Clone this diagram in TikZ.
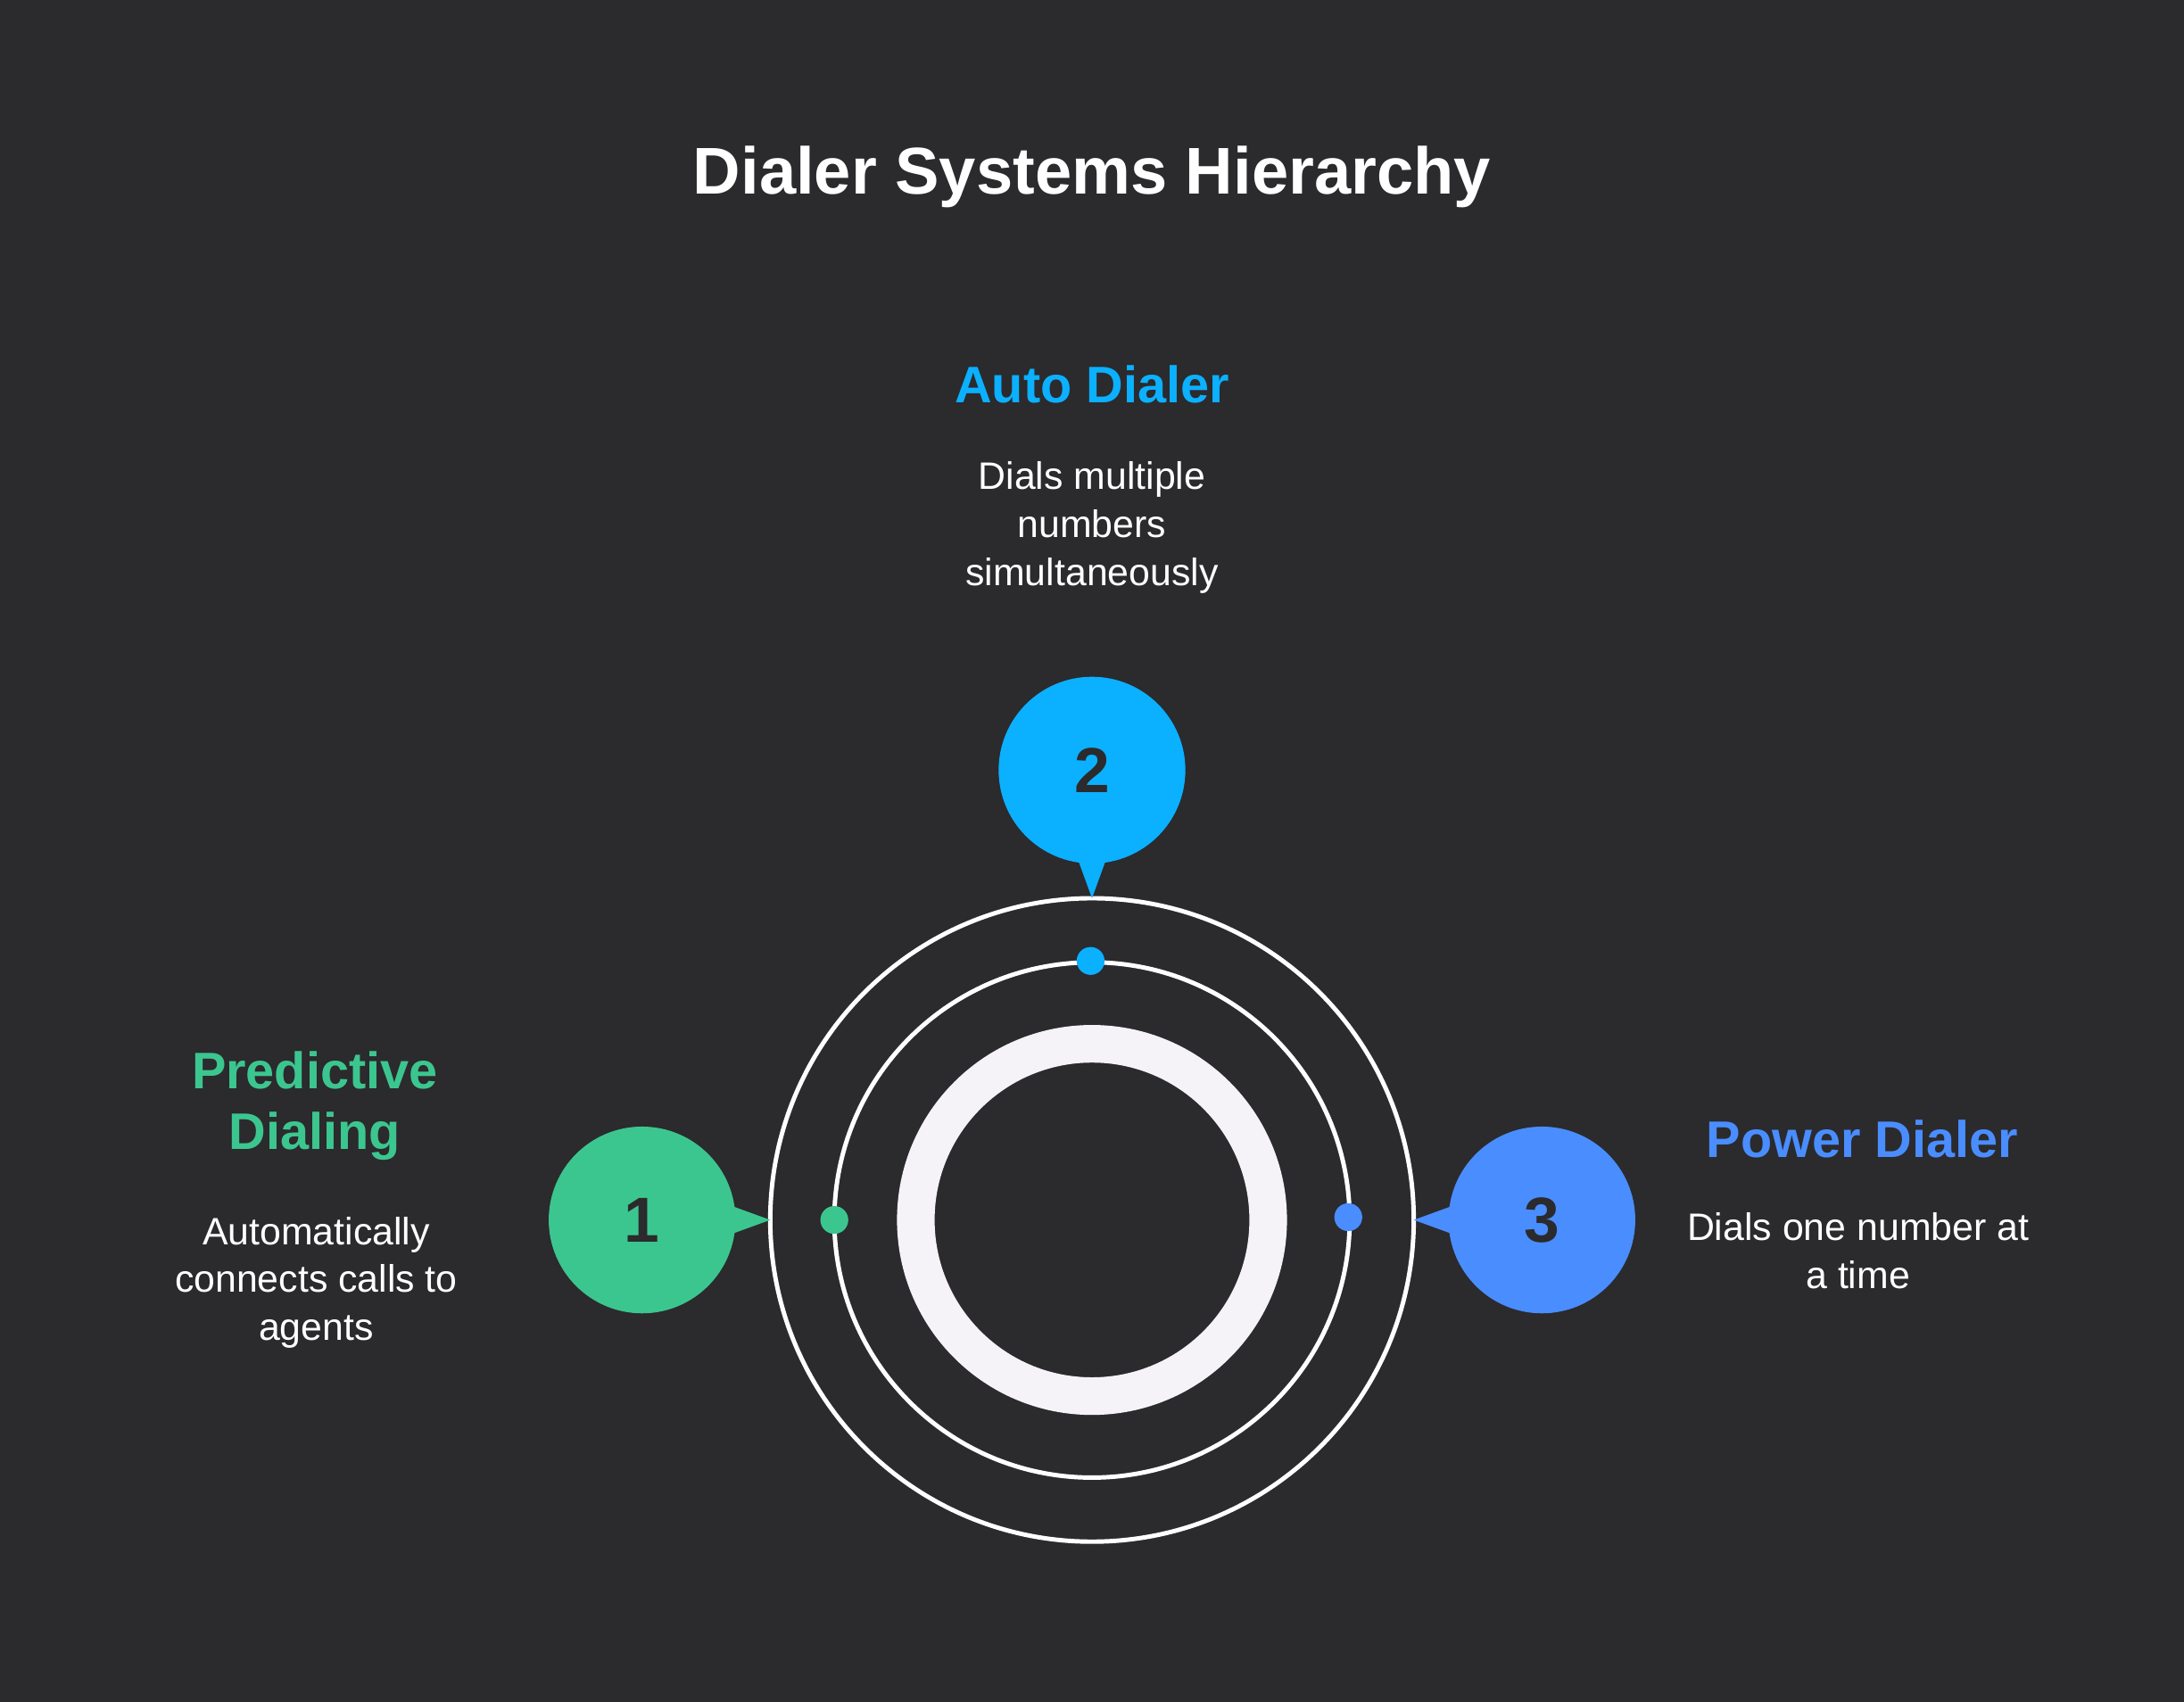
\documentclass[tikz,border=0pt]{standalone}
\usepackage{fontspec}
\setmainfont{Liberation Sans}
\usetikzlibrary{positioning}
\definecolor{bg}{HTML}{2B2A2D}
\definecolor{cgreen}{HTML}{3CC68F}
\definecolor{csky}{HTML}{0BB0FF}
\definecolor{cblue}{HTML}{4A8DFF}
\definecolor{cring}{HTML}{F5F3F7}
\tikzset{
	bubble/.style={circle, minimum size=1.34cm, inner sep=0pt, font=\bfseries\fontsize{13}{15}\selectfont, text=bg},
	head/.style={font=\bfseries\fontsize{10.5}{12.5}\selectfont, align=center},
	desc/.style={font=\fontsize{7.8}{9.8}\selectfont, text=white, align=center},
	dot/.style={circle, minimum size=0.2cm, inner sep=0pt}
}
\begin{document}
\begin{tikzpicture}[x=0.01cm, y=-0.01cm]
	\fill[bg] (0,0) rectangle (1568,1222);
	\useasboundingbox (0,0) rectangle (1568,1222);

	\node[font=\bfseries\fontsize{13.5}{16}\selectfont, text=white] (title) at (784,127) {Dialer Systems Hierarchy};

	% rings
	\draw[white, line width=0.9pt] (784,876) circle (231);
	\draw[white, line width=0.9pt] (784,876) circle (185);
	\draw[cring, line width=0.27cm] (784,876) circle (126.5);

	% pointers
	\coordinate (t2) at (784,645);
	\coordinate (t1) at (553,876);
	\coordinate (t3) at (1015,876);
	\fill[csky] (772,612) -- (796,612) -- (t2) -- cycle;
	\fill[cgreen] (520,864) -- (520,888) -- (t1) -- cycle;
	\fill[cblue] (1048,864) -- (1048,888) -- (t3) -- cycle;

	\node[bubble, fill=csky] (b2) at (784,553) {2};
	\node[bubble, fill=cgreen] (b1) at (461,876) {1};
	\node[bubble, fill=cblue] (b3) at (1107,876) {3};

	\node[dot, fill=csky] (d2) at (783,690) {};
	\node[dot, fill=cgreen] (d1) at (599,876) {};
	\node[dot, fill=cblue] (d3) at (968,874) {};

	% labels
	\node[head, text=csky] (h2) at (784,276) {Auto Dialer};
	\node[desc] (x2) at (784,379) {Dials multiple\\numbers\\simultaneously};
	\node[head, text=cgreen] (h1) at (226,794) {Predictive\\Dialing};
	\node[desc] (x1) at (227,921) {Automatically\\connects calls to\\agents};
	\node[head, text=cblue] (h3) at (1337,818) {Power Dialer};
	\node[desc] (x3) at (1334,898) {Dials one number at\\a time};
\end{tikzpicture}
\end{document}
